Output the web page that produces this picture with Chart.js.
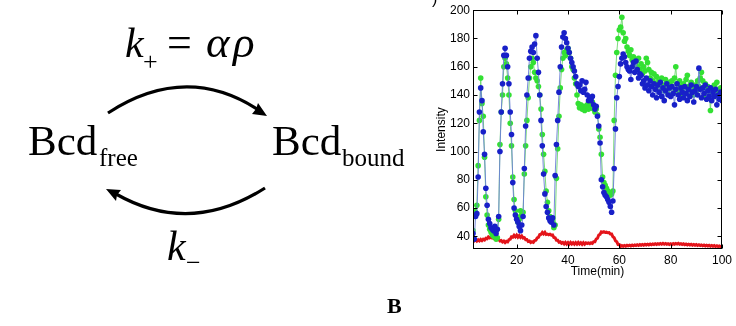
<!DOCTYPE html>
<html>
<head>
<meta charset="utf-8">
<script src="https://cdn.jsdelivr.net/npm/chart.js@4.4.0/dist/chart.umd.min.js"></script>
<style>
  body { margin: 0; background: #fff; }
  #page { position: relative; width: 736px; height: 326px; overflow: hidden; background: #fff; }
  #plot { position: absolute; left: 420px; top: 0; }
  #scheme { position: absolute; left: 0; top: 0; pointer-events: none; }
</style>
</head>
<body>
<div id="page">
  <canvas id="plot" width="316" height="290"></canvas>
  <svg id="scheme" width="736" height="326" xmlns="http://www.w3.org/2000/svg">
    <g font-family="'Liberation Serif', 'Times New Roman', serif" fill="#000">
      <text x="125" y="57" font-size="42" font-style="italic">k</text>
      <text x="143" y="70" font-size="26">+</text>
      <text x="167" y="57" font-size="44">=</text>
      <text x="206" y="57" font-size="45" font-style="italic">α</text>
      <text x="233" y="57" font-size="45" font-style="italic">ρ</text>

      <text x="28" y="155" font-size="43">Bcd</text>
      <text x="99" y="166" font-size="25">free</text>
      <text x="272" y="155" font-size="43">Bcd</text>
      <text x="342" y="166" font-size="25">bound</text>

      <text x="167" y="260" font-size="42" font-style="italic">k</text>
      <text x="186" y="271" font-size="26">−</text>

      <text x="387" y="313" font-size="22" font-weight="bold">B</text>
    </g>
    <text x="432" y="4" font-size="16" font-family="'Liberation Sans', Arial, sans-serif">)</text>
    <g stroke="#000" stroke-width="3.2" fill="none">
      <path d="M108,113 Q185,63 257,109"/>
      <path d="M265,188 Q190,236 116,194"/>
    </g>
    <g fill="#000">
      <polygon points="267,116 252,114 256,109 258,103"/>
      <polygon points="106,189 121,190 117,195 116,201"/>
    </g>
  </svg>
</div>
<script>
// sample times (min)
const timeMin = [
  3, 3.5, 4, 4.5, 5, 5.5, 6, 6.5, 7, 7.5,
  8, 8.5, 9, 9.5, 10, 10.5, 11, 11.5, 12, 12.5,
  13, 13.5, 14, 14.5, 15, 15.5, 16, 16.5, 17, 17.5,
  18, 18.5, 19, 19.5, 20, 20.5, 21, 21.5, 22, 22.5,
  23, 23.5, 24, 24.5, 25, 25.5, 26, 26.5, 27, 27.5,
  28, 28.5, 29, 29.5, 30, 30.5, 31, 31.5, 32, 32.5,
  33, 33.5, 34, 34.5, 35, 35.5, 36, 36.5, 37, 37.5,
  38, 38.5, 39, 39.5, 40, 40.5, 41, 41.5, 42, 42.5,
  43, 43.5, 44, 44.5, 45, 45.5, 46, 46.5, 47, 47.5,
  48, 48.5, 49, 49.5, 50, 50.5, 51, 51.5, 52, 52.5,
  53, 53.5, 54, 54.5, 55, 55.5, 56, 56.5, 57, 57.5,
  58, 58.5, 59, 59.5, 60, 60.5, 61, 61.5, 62, 62.5,
  63, 63.5, 64, 64.5, 65, 65.5, 66, 66.5, 67, 67.5,
  68, 68.5, 69, 69.5, 70, 70.5, 71, 71.5, 72, 72.5,
  73, 73.5, 74, 74.5, 75, 75.5, 76, 76.5, 77, 77.5,
  78, 78.5, 79, 79.5, 80, 80.5, 81, 81.5, 82, 82.5,
  83, 83.5, 84, 84.5, 85, 85.5, 86, 86.5, 87, 87.5,
  88, 88.5, 89, 89.5, 90, 90.5, 91, 91.5, 92, 92.5,
  93, 93.5, 94, 94.5, 95, 95.5, 96, 96.5, 97, 97.5,
  98, 98.5, 99, 99.5, 100
];

const blueIntensity = [
  42, 38, 54, 56, 82, 128, 145, 136, 114, 98,
  74, 62, 52, 49, 46, 45, 44, 47, 42, 45,
  54, 100, 128, 148, 168, 173, 168, 160, 148, 128,
  112, 78, 60, 55, 52, 50, 47, 44, 48, 54,
  88, 118, 140, 152, 166, 171, 174, 170, 176, 182,
  166, 156, 140, 122, 104, 84, 70, 61, 57, 53,
  51, 50, 53, 48, 83, 105, 122, 142, 160, 174,
  181, 184, 180, 177, 173, 170, 166, 163, 160, 157,
  153, 148, 146, 147, 143, 150, 142, 144, 149, 140,
  136, 138, 136, 139, 133, 130, 132, 125, 118, 106,
  80, 75, 71, 69, 68, 66, 64, 61, 57, 65,
  88, 116, 138, 146, 153, 162, 166, 169, 167, 163,
  160, 158, 157, 151, 160, 163, 156, 164, 158, 152,
  155, 154, 148, 150, 145, 152, 147, 143, 150, 146,
  140, 148, 144, 138, 147, 142, 149, 139, 145, 136,
  143, 148, 140, 145, 139, 146, 141, 133, 144, 148,
  140, 137, 145, 142, 138, 146, 141, 136, 144, 139,
  147, 142, 135, 143, 146, 140, 159, 144, 138, 145,
  141, 147, 137, 143, 139, 145, 136, 142, 139, 144,
  133, 140, 137, 142, 136
];

const greenIntensity = [
  44, 58, 57, 62, 90, 122, 152, 134, 125, 96,
  68, 55, 48, 45, 43, 41, 40, 42, 38, 39,
  52, 105, 128, 140, 160, 166, 162, 152, 140, 120,
  104, 82, 66, 58, 54, 50, 52, 58, 55, 57,
  84, 104, 122, 138, 152, 160, 166, 163, 156, 152,
  150, 146, 140, 130, 112, 98, 86, 72, 64, 58,
  54, 52, 50, 46, 48, 81, 102, 125, 145, 158,
  166, 170, 168, 172, 173, 170, 166, 160, 158, 152,
  148, 140, 134, 131, 133, 130, 132, 129, 131, 133,
  130, 134, 131, 135, 130, 128, 130, 126, 116, 110,
  98, 82, 78, 76, 74, 72, 71, 69, 70, 72,
  122, 154, 170, 180, 186, 188, 195, 184, 178, 180,
  174, 171, 168, 172, 165, 167, 162, 164, 160, 166,
  158, 162, 155, 160, 157, 166, 163, 158, 152, 156,
  150, 155, 148, 153, 146, 150, 144, 152, 147, 143,
  151, 146, 141, 149, 145, 150, 144, 152, 160, 148,
  143, 150, 146, 140, 148, 144, 151, 154, 146, 141,
  149, 145, 140, 147, 143, 150, 146, 152, 156, 150,
  144, 148, 139, 146, 142, 129, 145, 140, 147, 142,
  149, 138, 142, 145, 141
];

const redIntensity = [
  37.9, 36.8, 37.6, 36.6, 37.5, 36.7, 37.8, 36.9, 37.9, 37.4,
  38.6, 38.3, 39.6, 38.9, 39.5, 38.8, 39.1, 38.0, 38.8, 37.5,
  37.8, 36.7, 37.0, 36.0, 36.6, 35.5, 36.4, 36.0, 37.6, 37.9,
  39.7, 39.4, 40.7, 39.6, 40.8, 39.4, 40.5, 39.2, 40.2, 38.8,
  39.0, 37.6, 37.7, 36.3, 36.6, 35.6, 36.1, 35.7, 37.0, 37.2,
  38.8, 39.2, 41.2, 41.4, 42.7, 41.7, 42.8, 41.3, 41.6, 41.1,
  41.5, 40.8, 41.0, 39.2, 38.9, 37.2, 37.2, 35.8, 36.1, 35.0,
  35.6, 34.6, 35.7, 34.5, 35.5, 34.4, 35.6, 34.5, 35.4, 34.4,
  35.5, 34.4, 35.6, 34.5, 35.4, 34.3, 35.5, 34.4, 35.4, 34.9,
  35.3, 34.8, 35.4, 35.0, 36.2, 36.2, 38.1, 38.6, 40.9, 41.4,
  43.1, 42.8, 43.2, 42.7, 42.9, 42.5, 42.6, 41.6, 41.6, 39.6,
  39.0, 36.8, 36.2, 34.2, 34.2, 32.8, 33.4, 32.9, 33.5, 33.0,
  33.6, 33.2, 33.7, 33.2, 33.8, 33.3, 33.9, 33.4, 34.0, 33.5,
  34.1, 33.6, 34.2, 33.7, 34.3, 33.8, 34.4, 33.9, 34.5, 34.0,
  34.6, 34.1, 34.7, 34.2, 34.8, 34.3, 34.9, 34.4, 35.0, 34.4,
  34.9, 34.3, 34.8, 34.2, 34.7, 34.1, 34.8, 34.3, 34.9, 34.5,
  35.0, 34.4, 34.8, 34.2, 34.7, 34.0, 34.5, 33.9, 34.4, 33.8,
  34.3, 33.7, 34.2, 33.6, 34.1, 33.5, 34.0, 33.4, 33.9, 33.3,
  33.8, 33.2, 33.7, 33.1, 33.6, 33.0, 33.5, 32.9, 33.4, 32.8,
  33.3, 32.7, 33.2, 32.6, 33.1
];

const xTickValues = [20, 40, 60, 80, 100];
const yTickValues = [40, 60, 80, 100, 120, 140, 160, 180, 200];

const axisFont = { family: "'Liberation Sans', Arial, Helvetica, sans-serif", size: 12 };

const toPoints = (values) => values.map((v, i) => ({ x: timeMin[i], y: v }));

// MATLAB-style box with ticks pointing inward on all four sides
const boxTicks = {
  id: 'boxTicks',
  afterDatasetsDraw(chart) {
    const { ctx, chartArea: a, scales: { x, y } } = chart;
    const l = Math.round(a.left) + 0.5;
    const r = Math.round(a.right) - 0.5;
    const t = Math.round(a.top) + 0.5;
    const b = Math.round(a.bottom) - 0.5;
    const len = 4;
    ctx.save();
    ctx.strokeStyle = '#000';
    ctx.lineWidth = 1;
    ctx.strokeRect(l, t, r - l, b - t);
    ctx.beginPath();
    for (const v of xTickValues) {
      const px = Math.round(x.getPixelForValue(v)) + 0.5;
      ctx.moveTo(px, b); ctx.lineTo(px, b - len);
      ctx.moveTo(px, t); ctx.lineTo(px, t + len);
    }
    for (const v of yTickValues) {
      const py = Math.round(y.getPixelForValue(v)) + 0.5;
      ctx.moveTo(l, py); ctx.lineTo(l + len, py);
      ctx.moveTo(r, py); ctx.lineTo(r - len, py);
    }
    ctx.stroke();
    ctx.restore();
  }
};

new Chart(document.getElementById('plot'), {
  type: 'line',
  data: {
    datasets: [
      {
        label: 'blue',
        data: toPoints(blueIntensity),
        borderColor: 'rgba(105, 125, 215, 0.9)',
        borderWidth: 1,
        pointRadius: 2.8,
        pointBorderWidth: 0,
        pointBackgroundColor: '#1820c8',
        tension: 0,
      },
      {
        label: 'green',
        data: toPoints(greenIntensity),
        borderColor: 'rgba(110, 215, 110, 0.9)',
        borderWidth: 1,
        pointRadius: 2.8,
        pointBorderWidth: 0,
        pointBackgroundColor: '#33e033',
        tension: 0,
      },
      {
        label: 'red',
        data: toPoints(redIntensity),
        borderColor: '#e4141a',
        borderWidth: 3,
        pointRadius: 0,
        tension: 0,
      },
    ],
  },
  options: {
    responsive: false,
    animation: false,
    layout: { padding: { top: 4, right: 14, bottom: 0, left: 0 } },
    plugins: {
      legend: { display: false },
      tooltip: { enabled: false },
    },
    scales: {
      x: {
        type: 'linear',
        min: 3,
        max: 100,
        afterBuildTicks: (s) => { s.ticks = xTickValues.map(v => ({ value: v })); },
        afterFit: (s) => { s.height = 41; },
        grid: { display: false, drawTicks: false },
        border: { display: false },
        ticks: { color: '#000', font: axisFont, padding: 4, maxRotation: 0 },
        title: {
          display: true,
          text: 'Time(min)',
          color: '#000',
          font: axisFont,
          padding: { top: 0, bottom: 11 },
        },
      },
      y: {
        type: 'linear',
        min: 31,
        max: 200,
        afterBuildTicks: (s) => { s.ticks = yTickValues.map(v => ({ value: v })); },
        afterFit: (s) => { s.width = 53; },
        grid: { display: false, drawTicks: false },
        border: { display: false },
        ticks: { color: '#000', font: axisFont, padding: 3 },
        title: {
          display: true,
          text: 'Intensity',
          color: '#000',
          font: axisFont,
          padding: { top: 14, bottom: 0 },
        },
      },
    },
  },
  plugins: [boxTicks],
});
</script>
</body>
</html>
